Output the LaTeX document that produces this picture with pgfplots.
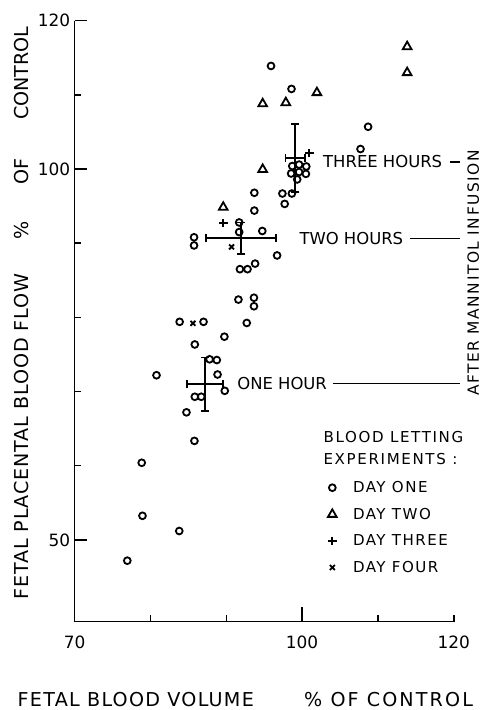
\documentclass[border=0pt]{standalone}
\usepackage{fontspec}
\setmainfont{DejaVu Sans}
\usepackage{pgfplots}
\usepackage{pgfplotstable}
\pgfplotsset{compat=1.18}

\pgfplotstableread{
x y
95.9 113.9
98.6 110.8
108.7 105.7
107.7 102.7
98.7 100.4
99.6 100.6
100.55 100.35
98.55 99.4
99.6 99.6
100.5 99.35
99.35 98.6
93.7 96.8
93.7 94.4
97.4 96.7
98.65 96.7
97.7 95.3
91.7 92.8
91.7 91.5
94.75 91.65
85.75 90.8
85.75 89.7
96.7 88.35
91.8 86.5
92.8 86.5
93.8 87.25
91.6 82.4
93.65 82.65
93.65 81.5
83.85 79.4
87.0 79.4
92.7 79.25
89.75 77.4
85.85 76.35
87.8 74.35
88.75 74.25
88.85 72.3
80.8 72.2
89.8 70.1
85.85 69.3
86.7 69.3
84.75 67.2
85.8 63.35
78.85 60.4
78.95 53.25
83.8 51.2
76.95 47.2
}\dayone

\pgfplotstableread{
x y
113.85 116.5
113.85 113.0
101.95 110.3
94.8 108.8
97.85 108.95
94.8 99.95
89.6 94.85
}\daytwo

\pgfplotstableread{
x y
89.6 92.7
100.95 102.15
}\daythree

\pgfplotstableread{
x y
90.7 89.5
85.6 79.2
}\dayfour

\pgfplotstableread{
x y ex ey
87.2 71.0 2.4 3.6
91.95 90.65 4.6 2.15
99.1 101.5 1.3 4.55
}\means

\pgfplotsset{
  lg/.style={legend image code/.code={%
    \path[draw=none,fill=none] (0bp,-3bp) rectangle (25.7bp,3bp);
    \draw[mark repeat=2,mark phase=2,##1] plot coordinates {(0bp,0bp)(7bp,0bp)(14bp,0bp)};}},
  mk/.style={only marks, lg, black, line width=1.8bp, mark options={line width=1.8bp, solid}},
}

\begin{document}
\begin{tikzpicture}
\begin{axis}[
  at={(0,0)}, anchor=south west,
  scale only axis, width=379.2bp, height=600.8bp,
  xmin=70, xmax=120, ymin=39, ymax=120,
  axis lines*=left,
  axis line style={line width=1.5bp, black},
  tick align=inside,
  xtick={80,90,110,120}, xticklabels={,,,120},
  ytick={60,70,80,90,110}, yticklabels={},
  extra x ticks={70,100}, extra x tick labels={70,100},
  extra y ticks={50,100,120}, extra y tick labels={50,100,120},
  major tick length=6.5bp,
  extra x tick style={major tick length=15bp},
  extra y tick style={major tick length=12bp},
  every tick/.style={black, line width=1.5bp},
  tick label style={font=\fontsize{17}{17}\selectfont},
  /pgf/number format/assume math mode=true,
  xticklabel style={yshift=-11bp},
  yticklabel style={xshift=-1bp},
  clip=false,
  legend cell align=left,
  legend style={draw=none, fill=none, at={(axis cs:103.06,58.16)}, anchor=north west,
    font=\fontsize{15.1}{15.1}\selectfont\addfontfeature{LetterSpace=10}, row sep=10bp, inner sep=0pt, outer sep=0pt,
    nodes={inner sep=2bp}},
]
\addplot[mk, mark=o, mark size=3.4bp] table[x=x,y=y] {\dayone};
\addlegendentry{DAY ONE}
\addplot[mk, mark=triangle, mark size=5bp] table[x=x,y=y] {\daytwo};
\addlegendentry{DAY TWO}
\addplot[mk, mark=+, mark size=4.3bp] table[x=x,y=y] {\daythree};
\addlegendentry{DAY THREE}
\addplot[mk, mark=x, mark size=3.5bp] table[x=x,y=y] {\dayfour};
\addlegendentry{DAY FOUR}

\addplot[forget plot, draw=none, mark=none,
  error bars/.cd, x dir=both, x explicit, y dir=both, y explicit,
  error bar style={draw=black, line width=1.8bp},
  error mark options={draw=black, line width=1.8bp, mark size=4bp, rotate=90}]
  table[x=x, y=y, x error=ex, y error=ey] {\means};

\begin{scope}[font=\fontsize{16.5}{16.5}\selectfont]
\node[anchor=west, inner sep=0pt] at (axis cs:91.43,71.1) {ONE HOUR};
\draw[line width=1.6bp] (axis cs:104.1,71.1) -- (axis cs:120.8,71.1);
\node[anchor=west, inner sep=0pt] at (axis cs:99.63,90.66) {TWO HOURS};
\draw[line width=1.6bp] (axis cs:114.2,90.66) -- (axis cs:120.8,90.66);
\node[anchor=west, inner sep=0pt] at (axis cs:102.75,100.95) {THREE HOURS};
\draw[line width=1.6bp] (axis cs:119.5,100.95) -- (axis cs:120.8,100.95);
\end{scope}
\node[rotate=90, inner sep=0pt, font=\fontsize{15.5}{15.5}\selectfont\addfontfeature{LetterSpace=10}] at (axis cs:122.55,86.0) {AFTER MANNITOL INFUSION};
\begin{scope}[font=\fontsize{15.1}{15.1}\selectfont\addfontfeature{LetterSpace=11}]
\node[anchor=base west, inner sep=0pt] at (axis cs:102.8,63.11) {BLOOD LETTING};
\node[anchor=base west, inner sep=0pt] at (axis cs:102.8,60.11) {EXPERIMENTS :};
\end{scope}
\end{axis}

\begin{scope}[font=\fontsize{19.2}{19.2}\selectfont]
\node[rotate=90, anchor=base west, inner sep=0pt, font=\fontsize{19.2}{19.2}\selectfont\addfontfeature{LetterSpace=4.5}] at (-46.3bp,21.5bp) {FETAL PLACENTAL BLOOD FLOW};
\node[rotate=90, anchor=base west, inner sep=0pt] at (-46.3bp,381.5bp) {\%};
\node[rotate=90, anchor=base west, inner sep=0pt] at (-46.3bp,436.5bp) {OF};
\node[rotate=90, anchor=base west, inner sep=0pt] at (-46.3bp,501.5bp) {CONTROL};
\node[anchor=base west, inner sep=0pt, font=\fontsize{19.2}{19.2}\selectfont\addfontfeature{LetterSpace=6.6}] at (-57.1bp,-84.5bp) {FETAL BLOOD VOLUME};
\node[anchor=base west, inner sep=0pt, font=\fontsize{19.2}{19.2}\selectfont\addfontfeature{LetterSpace=11}] at (229.4bp,-84.5bp) {\% OF CONTROL};
\end{scope}

\pgfresetboundingbox
\path[use as bounding box] (-74.6bp,-88.5bp) rectangle (409.4bp,621.5bp);
\end{tikzpicture}
\end{document}
